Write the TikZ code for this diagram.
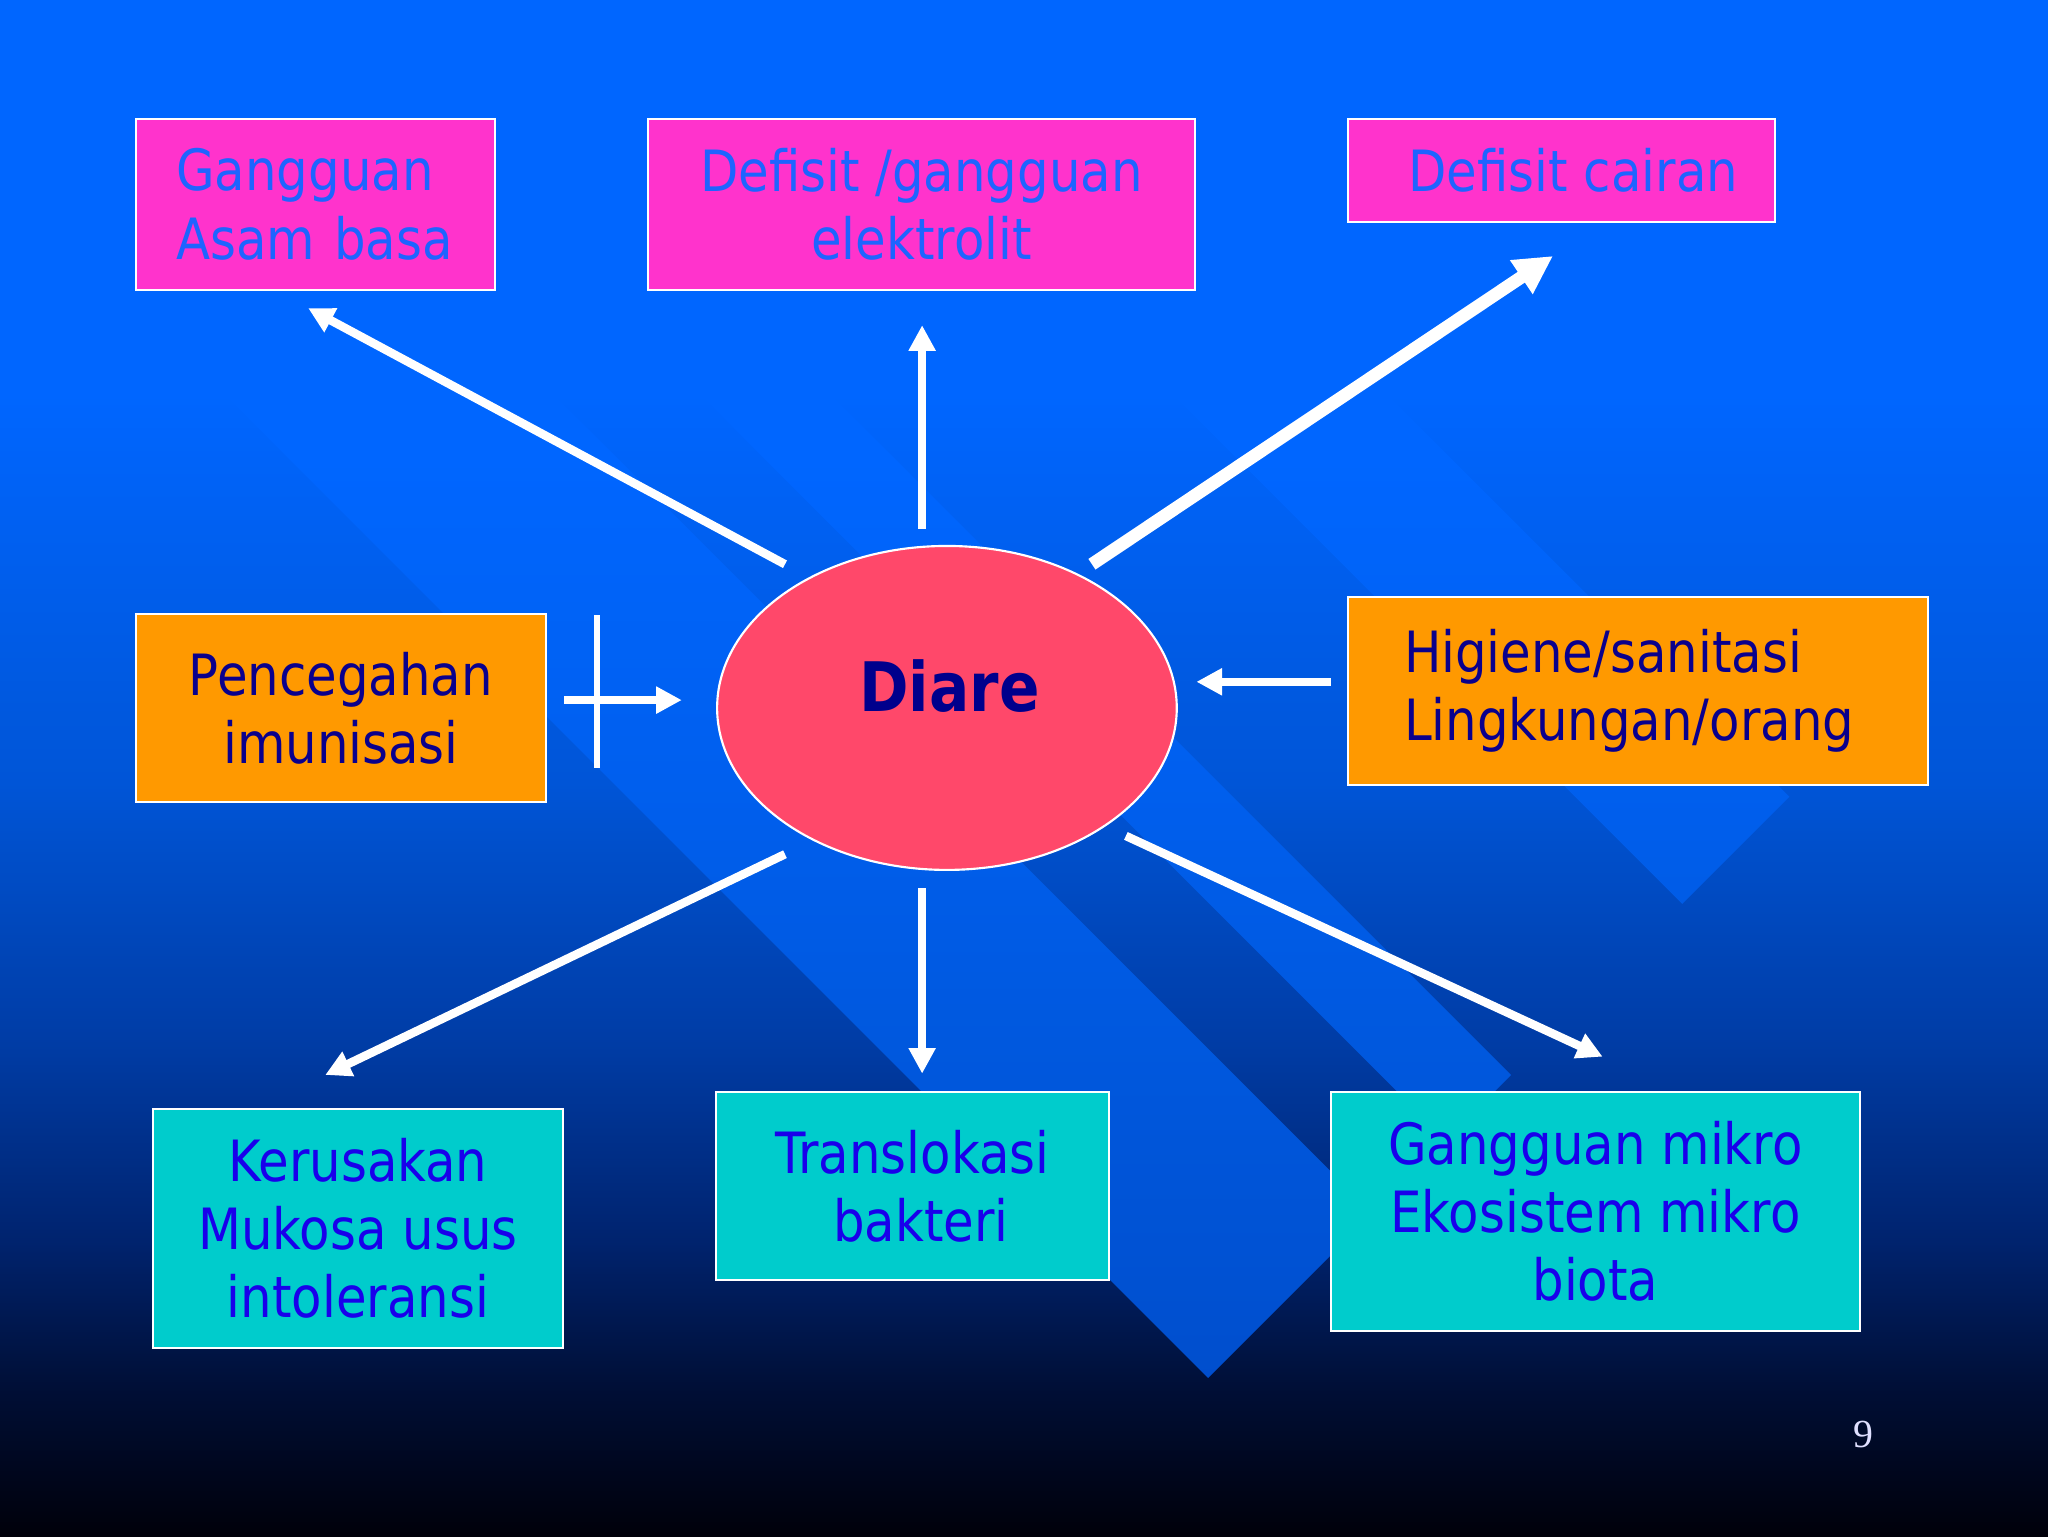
\documentclass[tikz,border=0pt]{standalone}
\usepackage{fontspec}
\setmainfont{DejaVu Sans}[FakeStretch=0.875]
\newfontfamily\numfont{Liberation Serif}
\usetikzlibrary{arrows.meta,shapes.geometric}
\definecolor{bgA}{RGB}{0,102,255}
\definecolor{bgB}{RGB}{0,85,215}
\definecolor{bgC}{RGB}{0,60,165}
\definecolor{bgD}{RGB}{0,35,110}
\definecolor{bgE}{RGB}{0,15,55}
\definecolor{bgF}{RGB}{0,0,10}
\definecolor{bdA}{RGB}{0,102,255}
\definecolor{bdB}{RGB}{0,95,238}
\definecolor{bdC}{RGB}{0,88,222}
\definecolor{bdD}{RGB}{0,78,205}
\definecolor{bdE}{RGB}{0,72,195}
\definecolor{magfill}{RGB}{255,51,204}
\definecolor{magtext}{RGB}{30,100,255}
\definecolor{orgfill}{RGB}{255,153,0}
\definecolor{orgtext}{RGB}{10,0,140}
\definecolor{cynfill}{RGB}{0,204,204}
\definecolor{cyntext}{RGB}{25,0,235}
\definecolor{ellfill}{RGB}{255,72,106}
\definecolor{diaretext}{RGB}{0,0,140}
\pgfdeclareverticalshading{bgshade}{100bp}{color(0bp)=(bgF); color(25bp)=(bgF); color(29.9bp)=(bgE); color(34.6bp)=(bgD); color(41bp)=(bgC); color(49.5bp)=(bgB); color(62.2bp)=(bgA); color(100bp)=(bgA)}
\pgfdeclareverticalshading{bandshade}{100bp}{color(0bp)=(bdE); color(25bp)=(bdE); color(29.9bp)=(bdD); color(41bp)=(bdC); color(49.5bp)=(bdB); color(60.1bp)=(bdA); color(100bp)=(bdA)}
\tikzset{
  box/.style={draw=white, line width=0.75pt, inner sep=0pt, font=\fontsize{20pt}{24pt}\selectfont},
  mag/.style={box, fill=magfill, text=magtext},
  org/.style={box, fill=orgfill, text=orgtext},
  cyn/.style={box, fill=cynfill, text=cyntext},
  arr/.style={draw=white, line width=3pt, -{Triangle[length=9pt,width=9pt]}},
  arrthick/.style={draw=white, line width=4.5pt, -{Triangle[length=13.4pt,width=13.4pt]}},
  crossline/.style={draw=white, line width=2.25pt},
  diareshape/.style={ellipse, draw=white, line width=0.75pt, fill=ellfill, minimum width=161.6pt, minimum height=113.9pt, inner sep=0pt},
  diarelabel/.style={text=diaretext, font=\bfseries\fontsize{24pt}{28pt}\selectfont, yshift=7.8pt, xshift=0.9pt},
  pagenum/.style={text=white!88!blue, font=\numfont\fontsize{14pt}{16pt}\selectfont}
}
\begin{document}
\begin{tikzpicture}[x=0.4592pt, y=-0.4592pt]
\useasboundingbox (0,0) rectangle (1568,1176);
% background
\shade[shading=bgshade] (0,0) rectangle (1568,1176);
\begin{scope}
  \clip (0,0) rectangle (1568,1176);
  \clip (925,1055) -- (1051,929) -- (-78,-200) -- (-330,-200) -- cycle
        (1107,873) -- (1157,823) -- (134,-200) -- (34,-200) -- cycle
        (1288,692) -- (1370,610) -- (560,-200) -- (396,-200) -- cycle;
  \shade[shading=bandshade] (0,0) rectangle (1568,1176);
\end{scope}

% boxes
\node[mag, minimum width=126.3pt, minimum height=60.2pt, text width=97.8pt, align=left] (asam) at (241.5,156.5) {Gangguan\\Asam basa};
\node[mag, minimum width=192.4pt, minimum height=60.2pt, align=center] (elek) at (705.5,156.5) {Defisit /gangguan\\elektrolit};
\node[mag, minimum width=150.2pt, minimum height=36.3pt] (cairan) at (1195.5,130.5) {\hspace*{8.3pt}Defisit cairan};
\node[org, minimum width=144.2pt, minimum height=66.1pt, align=center] (cegah) at (261,542) {Pencegahan\\imunisasi};
\node[org, minimum width=203.9pt, minimum height=66.1pt, text width=164.4pt, align=left] (higiene) at (1254,529) {Higiene/sanitasi\\Lingkungan/orang};
\node[cyn, minimum width=144.2pt, minimum height=84pt, align=center] (rusak) at (274,940.5) {Kerusakan\\Mukosa usus\\intoleransi};
\node[cyn, minimum width=138.2pt, minimum height=66.1pt, align=center] (transl) at (698.5,908) {Translokasi\\\hspace*{6pt}bakteri};
\node[cyn, minimum width=186pt, minimum height=84pt, align=center] (mikro) at (1221.5,927.5) {Gangguan mikro\\Ekosistem mikro\\biota};

% central ellipse
\node[diareshape, label={[diarelabel]center:Diare}] (diare) at (725,542) {};

% arrow end points
\coordinate (a1s) at (601,432);  \coordinate (a1e) at (236,236);
\coordinate (a2s) at (706,405);  \coordinate (a2e) at (706,249);
\coordinate (a3s) at (836,432);  \coordinate (a3e) at (1189,196);
\coordinate (a4s) at (432,536);  \coordinate (a4e) at (522,536);
\coordinate (x1) at (457,471);   \coordinate (x2) at (457,588);
\coordinate (a5s) at (1019,522); \coordinate (a5e) at (916,522);
\coordinate (a6s) at (601,654);  \coordinate (a6e) at (249,823);
\coordinate (a7s) at (706,680);  \coordinate (a7e) at (706,822);
\coordinate (a8s) at (862,640);  \coordinate (a8e) at (1227,809);

\draw[arr] (a1s) -- (a1e);
\draw[arr] (a2s) -- (a2e);
\draw[arrthick] (a3s) -- (a3e);
\draw[arr] (a4s) -- (a4e);
\draw[crossline] (x1) -- (x2);
\draw[arr] (a5s) -- (a5e);
\draw[arr] (a6s) -- (a6e);
\draw[arr] (a7s) -- (a7e);
\draw[arr] (a8s) -- (a8e);

% page number
\node[pagenum] (pg) at (1427,1098) {9};
\end{tikzpicture}
\end{document}
